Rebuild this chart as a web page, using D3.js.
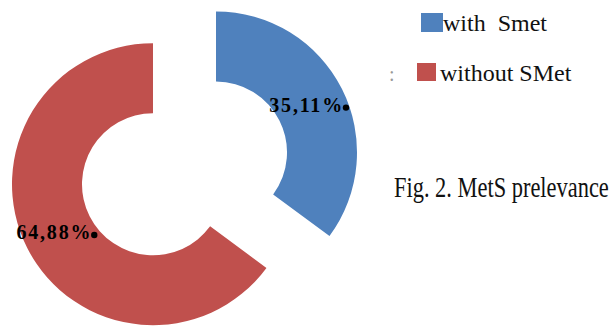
<!DOCTYPE html>
<html><head><meta charset="utf-8">
<script src="https://cdn.jsdelivr.net/npm/d3@7"></script>
<style>body{margin:0;background:#fff}svg{display:block}</style>
</head><body>
<script>
const categories = ["with  Smet", "without SMet"];
const values = [35.11, 64.88];
const labels = ["35,11%", "64,88%"];
const colors = ["#4F81BD", "#C0504D"];
const title = "Fig. 2. MetS prelevance";

const W = 615, H = 326;
const svg = d3.select("body").append("svg").attr("width", W).attr("height", H);

const cx = 184.5, cy = 168.3, R = 141, r = 71, explode = 35.3;
const pie = d3.pie().sort(null).startAngle(0).endAngle(2 * Math.PI);
const arcs = pie(values);
const arc = d3.arc().innerRadius(r).outerRadius(R);

const g = svg.append("g").attr("transform", `translate(${cx},${cy})`);
const slice = g.selectAll("g.slice").data(arcs).join("g").attr("class", "slice")
  .attr("transform", d => {
    const m = (d.startAngle + d.endAngle) / 2;
    return `translate(${explode * Math.sin(m)},${-explode * Math.cos(m)})`;
  });
slice.append("path").attr("d", arc).attr("fill", (d, i) => colors[i]);

slice.each(function (d, i) {
  const c = arc.centroid(d);
  const t = d3.select(this).append("text")
    .attr("x", c[0] - 4).attr("y", c[1] + 7)
    .attr("text-anchor", "middle")
    .attr("font-family", "Liberation Serif, Times New Roman, serif")
    .attr("font-weight", "bold").attr("font-size", 20)
    .attr("letter-spacing", 1.8)
    .attr("fill", "#000").text(labels[i]);
  const len = t.node().getComputedTextLength();
  d3.select(this).append("circle")
    .attr("cx", c[0] - 4 + len / 2 + 2).attr("cy", c[1] + 3).attr("r", 3.2).attr("fill", "#000");
});

// legend
const lg = svg.append("g");
const ly = [13, 63];
const lsz = [[22, 19], [19, 18]];
const lx = [421, 417];
categories.forEach((c, i) => {
  lg.append("rect").attr("x", lx[i]).attr("y", ly[i]).attr("width", lsz[i][0]).attr("height", lsz[i][1])
    .attr("fill", colors[i]);
  lg.append("text").attr("x", [443, 440][i]).attr("y", ly[i] + 18)
    .attr("font-family", "Liberation Serif, Times New Roman, serif").attr("font-size", 24)
    .attr("fill", "#111").style("white-space", "pre").text(c);
});
lg.append("text").attr("x", 389).attr("y", 81).attr("font-family", "Liberation Serif, serif")
  .attr("font-size", 20).attr("fill", "#999").text(":");

const tt = svg.append("text")
  .attr("font-family", "Liberation Serif, Times New Roman, serif").attr("font-size", 29)
  .attr("fill", "#111").text(title);
const tw = tt.node().getComputedTextLength();
tt.attr("transform", `translate(394,197) scale(${215 / tw},1)`);
</script>
</body></html>
